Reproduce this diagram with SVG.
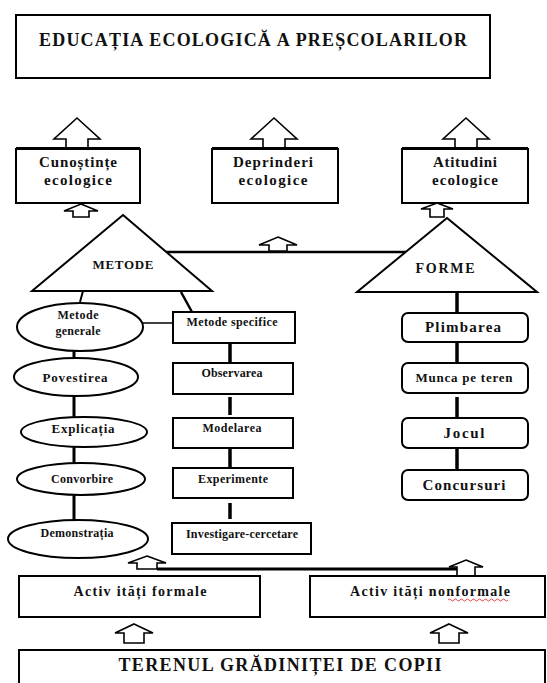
<svg xmlns="http://www.w3.org/2000/svg" width="547" height="683" viewBox="0 0 547 683">
<style>
.bx{fill:#fff;stroke:#000;stroke-width:2}
.el{fill:#fff;stroke:#000;stroke-width:2}
.ar{fill:#fff;stroke:#000;stroke-width:1.6;stroke-linejoin:miter}
.ln{stroke:#000;fill:none}
text{font-family:"Liberation Serif","Times New Roman",serif;font-weight:bold;fill:#111;text-anchor:middle}
.t18{font-size:18px}.t15{font-size:15px}.t14{font-size:14px}.t13{font-size:13px}.t12{font-size:12px}
</style>
<rect width="547" height="683" fill="#fff"/>

<g id="title">
<rect class="bx" x="16" y="15" width="474" height="63"/>
<text class="t18" x="253" y="46" textLength="428" lengthAdjust="spacing">EDUCAȚIA ECOLOGICĂ A PREȘCOLARILOR</text>
</g>

<g id="connectors">
<path class="ar" d="M77,118 L100,139 L88,139 L88,149 L66,149 L66,139 L54,139 Z"/>
<path class="ar" d="M274,118 L297,139 L285,139 L285,149 L263,149 L263,139 L251,139 Z"/>
<path class="ar" d="M466,118 L489,139 L477,139 L477,149 L455,149 L455,139 L443,139 Z"/>
<path class="ar" d="M81,204 L98,211 L89,211 L89,217 L73,217 L73,211 L64,211 Z"/>
<path class="ar" d="M437,203 L453,209 L444,209 L444,217 L430,217 L430,209 L421,209 Z"/>
<line class="ln" x1="166" y1="252" x2="406" y2="252" stroke-width="2.5"/>
<path class="ar" d="M278,237 L297,245 L287,245 L287,251 L269,251 L269,245 L259,245 Z"/>
<line class="ln" x1="83" y1="291" x2="80" y2="302" stroke-width="2"/>
<line class="ln" x1="181" y1="292" x2="192" y2="312" stroke-width="2.5"/>
<line class="ln" x1="143" y1="323" x2="173" y2="323" stroke-width="1.5"/>
<line class="ln" x1="74" y1="351" x2="74" y2="358" stroke-width="3"/>
<line class="ln" x1="74" y1="396" x2="74" y2="418" stroke-width="3"/>
<line class="ln" x1="74" y1="447" x2="74" y2="463" stroke-width="3"/>
<line class="ln" x1="74" y1="495" x2="74" y2="520" stroke-width="3"/>
<line class="ln" x1="230" y1="343" x2="230" y2="363" stroke-width="3.5"/>
<line class="ln" x1="230" y1="397" x2="230" y2="415" stroke-width="3.5"/>
<line class="ln" x1="230" y1="448" x2="230" y2="468" stroke-width="3.5"/>
<line class="ln" x1="230" y1="503" x2="230" y2="519" stroke-width="3.5"/>
<line class="ln" x1="457" y1="292" x2="457" y2="313" stroke-width="3.5"/>
<line class="ln" x1="457" y1="342" x2="457" y2="363" stroke-width="3.5"/>
<line class="ln" x1="457" y1="397" x2="457" y2="418" stroke-width="3.5"/>
<line class="ln" x1="457" y1="448" x2="457" y2="470" stroke-width="3.5"/>
<path class="ar" d="M147,556 L166,563 L157,563 L157,569 L137,569 L137,563 L128,563 Z"/>
<path class="ar" d="M466,560 L483,567 L475,567 L475,576 L457,576 L457,567 L449,567 Z"/>
<line class="ln" x1="157" y1="569" x2="457" y2="569" stroke-width="3"/>
<path class="ar" d="M134,624 L153,633 L144,633 L144,643 L124,643 L124,633 L115,633 Z"/>
<path class="ar" d="M449,624 L468,633 L459,633 L459,643 L439,643 L439,633 L430,633 Z"/>
</g>

<g id="cunostinte">
<rect class="bx" x="16" y="149" width="124" height="54"/>
<line class="ln" x1="16" y1="148" x2="140" y2="148" stroke-width="2"/>
<text class="t15" x="78" y="167" textLength="78" lengthAdjust="spacing">Cunoștințe</text>
<text class="t15" x="78" y="185" textLength="68" lengthAdjust="spacing">ecologice</text>
</g>
<g id="deprinderi">
<rect class="bx" x="212" y="149" width="126" height="54"/>
<line class="ln" x1="212" y1="148" x2="338" y2="148" stroke-width="2"/>
<text class="t15" x="273" y="167" textLength="80" lengthAdjust="spacing">Deprinderi</text>
<text class="t15" x="273" y="185" textLength="69" lengthAdjust="spacing">ecologice</text>
</g>
<g id="atitudini">
<rect class="bx" x="402" y="149" width="126" height="54"/>
<line class="ln" x1="402" y1="148" x2="528" y2="148" stroke-width="2"/>
<text class="t15" x="465" y="167" textLength="64" lengthAdjust="spacing">Atitudini</text>
<text class="t15" x="465" y="185" textLength="66" lengthAdjust="spacing">ecologice</text>
</g>

<g id="metode">
<polygon class="bx" points="123,215 212,291 32,291"/>
<text class="t13" x="123" y="269" textLength="61" lengthAdjust="spacing">METODE</text>
</g>
<g id="forme">
<polygon class="bx" points="447,218 537,292 357,292"/>
<text class="t14" x="445" y="273" textLength="59" lengthAdjust="spacing">FORME</text>
</g>

<g id="metode-generale">
<ellipse class="el" cx="80" cy="327" rx="63" ry="24"/>
<text class="t12" x="78" y="319" textLength="41" lengthAdjust="spacing">Metode</text>
<text class="t12" x="78" y="335" textLength="45" lengthAdjust="spacing">generale</text>
</g>
<g id="povestirea">
<ellipse class="el" cx="76" cy="377" rx="62" ry="19" stroke-width="2.6"/>
<text class="t13" x="75" y="382" textLength="65" lengthAdjust="spacing">Povestirea</text>
</g>
<g id="explicatia">
<ellipse class="el" cx="84" cy="432" rx="63" ry="15"/>
<text class="t13" x="83" y="433" textLength="63" lengthAdjust="spacing">Explicația</text>
</g>
<g id="convorbire">
<ellipse class="el" cx="81" cy="479" rx="64" ry="16"/>
<text class="t12" x="82" y="483" textLength="62" lengthAdjust="spacing">Convorbire</text>
</g>
<g id="demonstratia">
<ellipse class="el" cx="78" cy="539" rx="70" ry="19"/>
<text class="t12" x="77" y="537" textLength="73" lengthAdjust="spacing">Demonstrația</text>
</g>

<g id="metode-specifice">
<rect class="bx" x="173" y="312" width="122" height="31"/>
<text class="t12" x="232" y="326" textLength="91" lengthAdjust="spacing">Metode specifice</text>
</g>
<g id="observarea">
<rect class="bx" x="173" y="363" width="120" height="31"/>
<text class="t12" x="232" y="377" textLength="61" lengthAdjust="spacing">Observarea</text>
</g>
<g id="modelarea">
<rect class="bx" x="173" y="418" width="120" height="30"/>
<text class="t12" x="232" y="432" textLength="59" lengthAdjust="spacing">Modelarea</text>
</g>
<g id="experimente">
<rect class="bx" x="173" y="468" width="120" height="30"/>
<text class="t12" x="233" y="483" textLength="70" lengthAdjust="spacing">Experimente</text>
</g>
<g id="investigare">
<rect class="bx" x="172" y="523" width="139" height="31"/>
<text class="t12" x="242" y="538" textLength="112" lengthAdjust="spacing">Investigare-cercetare</text>
</g>

<g id="plimbarea">
<rect class="bx" x="402" y="313" width="126" height="29" rx="6"/>
<text class="t15" x="463" y="332" textLength="76" lengthAdjust="spacing">Plimbarea</text>
</g>
<g id="munca">
<rect class="bx" x="402" y="363" width="126" height="30" rx="6"/>
<text class="t13" x="464" y="382" textLength="97" lengthAdjust="spacing">Munca pe teren</text>
</g>
<g id="jocul">
<rect class="bx" x="402" y="418" width="126" height="30" rx="6"/>
<text class="t15" x="464" y="438" textLength="41" lengthAdjust="spacing">Jocul</text>
</g>
<g id="concursuri">
<rect class="bx" x="402" y="470" width="126" height="30" rx="6"/>
<text class="t15" x="464" y="490" textLength="83" lengthAdjust="spacing">Concursuri</text>
</g>

<g id="activitati-formale">
<rect class="bx" x="19" y="576" width="241" height="41"/>
<text class="t14" x="140" y="596" textLength="133" lengthAdjust="spacing">Activ ități formale</text>
</g>
<g id="activitati-nonformale">
<rect class="bx" x="310" y="576" width="235" height="41"/>
<text class="t14" x="430" y="596" textLength="160" lengthAdjust="spacing">Activ ități nonformale</text>
<path d="M448,600 q1.5,-2 3,0 t3,0 t3,0 t3,0 t3,0 t3,0 t3,0 t3,0 t3,0 t3,0 t3,0 t3,0 t3,0 t3,0 t3,0 t3,0 t3,0 t3,0 t3,0 t3,0" fill="none" stroke="#e03030" stroke-width="0.9"/>
</g>

<g id="terenul">
<rect class="bx" x="19" y="650" width="526" height="45"/>
<text class="t18" x="280" y="671" textLength="323" lengthAdjust="spacing">TERENUL GRĂDINIȚEI DE COPII</text>
</g>
</svg>
